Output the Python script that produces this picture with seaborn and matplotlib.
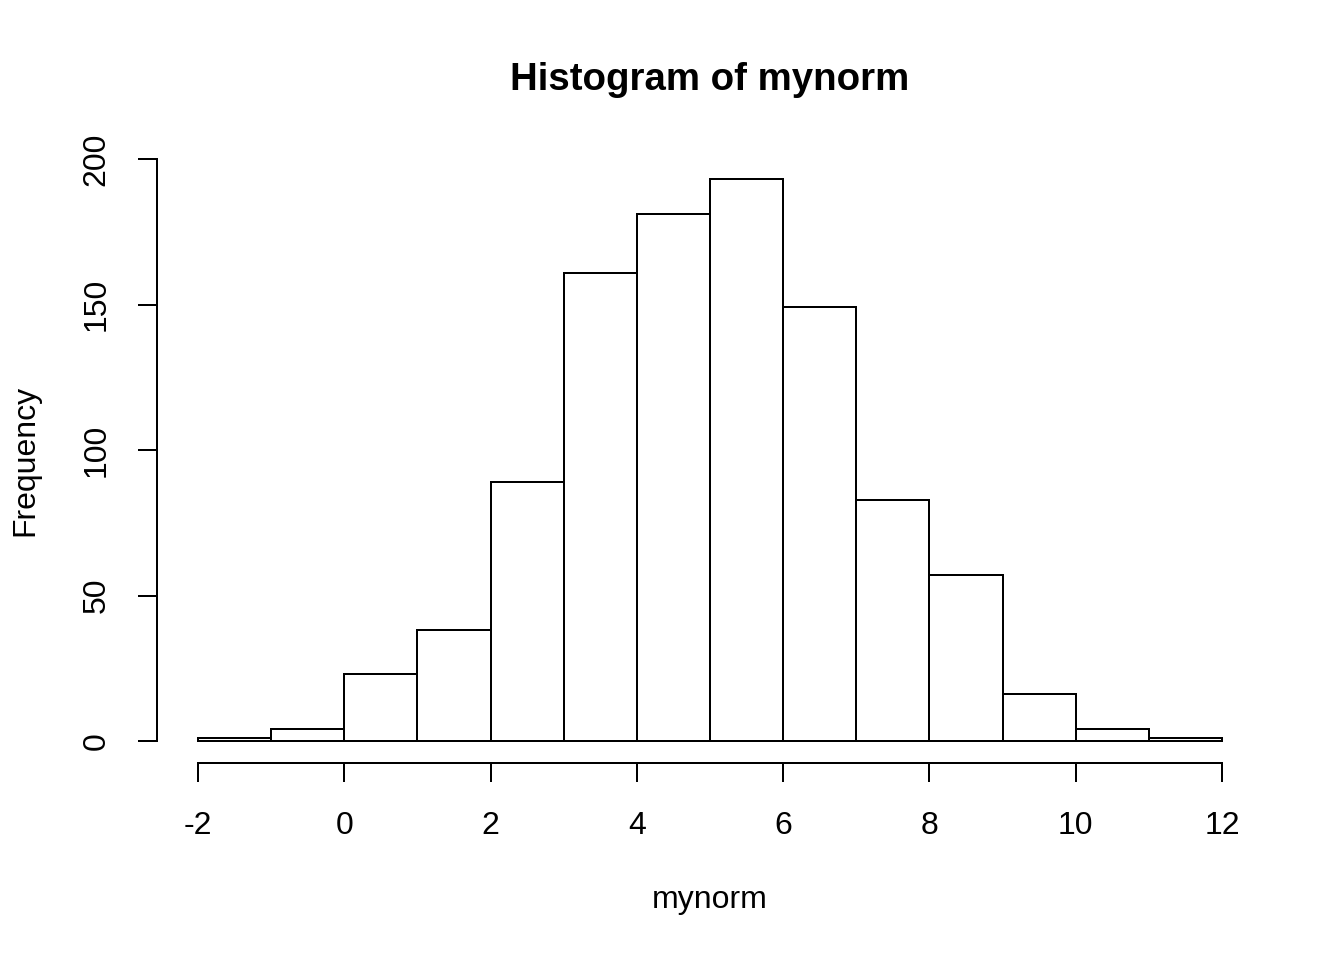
import numpy as np
import matplotlib
matplotlib.use("Agg")
import matplotlib.pyplot as plt
import seaborn as sns

# histogram counts (bins of width 1 from -2 to 12)
bin_edges = [-2, -1, 0, 1, 2, 3, 4, 5, 6, 7, 8, 9, 10, 11, 12]
counts = [1, 4, 23, 38, 89, 161, 181, 193, 149, 83, 57, 16, 4, 1]
x_ticks = [-2, 0, 2, 4, 6, 8, 10, 12]
y_ticks = [0, 50, 100, 150, 200]

centers = [(a + b) / 2 for a, b in zip(bin_edges[:-1], bin_edges[1:])]

sns.set_style("ticks")
plt.rcParams['font.family'] = ['Liberation Sans', 'DejaVu Sans']
plt.rcParams['font.size'] = 12
plt.rcParams['axes.unicode_minus'] = False
plt.rcParams['text.color'] = 'black'
plt.rcParams['axes.labelcolor'] = 'black'

fig = plt.figure(figsize=(7, 5), dpi=192)
ax = fig.add_axes([0.1168, 0.2047, 0.8229, 0.6318])

sns.histplot(
    x=centers,
    weights=counts,
    bins=bin_edges,
    color='white',
    edgecolor='black',
    linewidth=0.75,
    alpha=1,
    ax=ax
)

ax.set_xlim(-2.56, 12.56)
ax.set_ylim(-7.72, 200.72)
ax.set_xticks(x_ticks)
ax.set_yticks(y_ticks)

for side in ['top', 'right']:
    ax.spines[side].set_visible(False)
ax.spines['left'].set_bounds(0, 200)
ax.spines['bottom'].set_bounds(-2, 12)
for side in ['left', 'bottom']:
    ax.spines[side].set_linewidth(0.75)
    ax.spines[side].set_color('black')

ax.tick_params(axis='both', direction='out', length=7, width=0.75,
               labelsize=12, colors='black')
ax.tick_params(axis='x', pad=11)
ax.tick_params(axis='y', pad=10, labelrotation=90)
for lab in ax.get_yticklabels():
    lab.set_va('center')

ax.set_xlabel("mynorm", fontsize=12, color='black')
ax.set_ylabel("Frequency", fontsize=12, color='black')
ax.xaxis.set_label_coords(0.5, -0.225)
ax.xaxis.label.set_va('center')
ax.yaxis.set_label_coords(-0.119, 0.5)
ax.yaxis.label.set_va('center')

ax.set_title("Histogram of mynorm", fontsize=14.4, fontweight='bold',
             y=1.127, va='center', pad=0, color='black')

fig.savefig("out.png", dpi=192)
